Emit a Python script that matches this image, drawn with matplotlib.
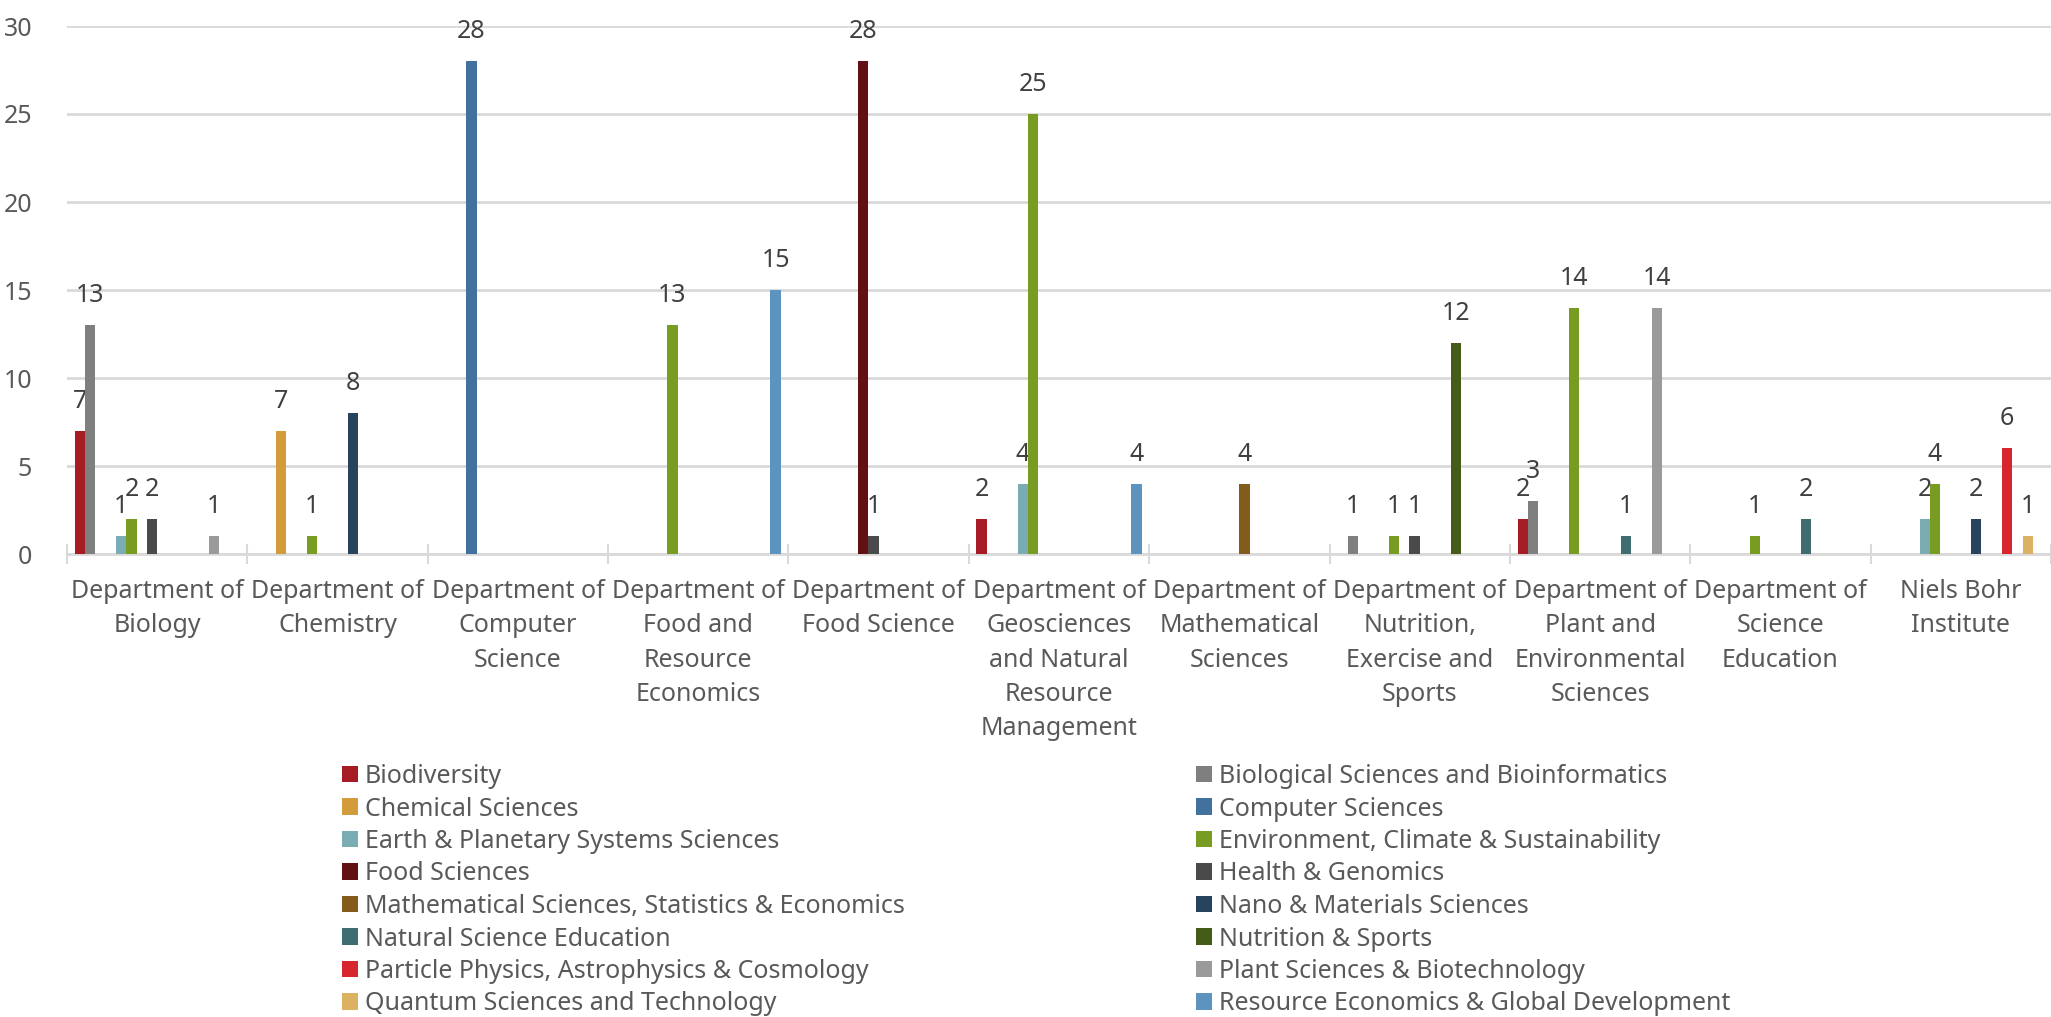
import numpy as np
import matplotlib
matplotlib.use('Agg')
import matplotlib.pyplot as plt
from matplotlib.patches import Patch

plt.rcParams['font.family'] = ['Noto Sans', 'DejaVu Sans']

departments = ['Department of\nBiology',
               'Department of\nChemistry',
               'Department of\nComputer\nScience',
               'Department of\nFood and\nResource\nEconomics',
               'Department of\nFood Science',
               'Department of\nGeosciences\nand Natural\nResource\nManagement',
               'Department of\nMathematical\nSciences',
               'Department of\nNutrition,\nExercise and\nSports',
               'Department of\nPlant and\nEnvironmental\nSciences',
               'Department of\nScience\nEducation',
               'Niels Bohr\nInstitute']

series_names = ['Biodiversity',
                'Biological Sciences and Bioinformatics',
                'Chemical Sciences',
                'Computer Sciences',
                'Earth & Planetary Systems Sciences',
                'Environment, Climate & Sustainability',
                'Food Sciences',
                'Health & Genomics',
                'Mathematical Sciences, Statistics & Economics',
                'Nano & Materials Sciences',
                'Natural Science Education',
                'Nutrition & Sports',
                'Particle Physics, Astrophysics & Cosmology',
                'Plant Sciences & Biotechnology',
                'Quantum Sciences and Technology',
                'Resource Economics & Global Development']

# one list per series, one value per department
biodiversity = [7, 0, 0, 0, 0, 2, 0, 0, 2, 0, 0]
bio_sci      = [13, 0, 0, 0, 0, 0, 0, 1, 3, 0, 0]
chemical     = [0, 7, 0, 0, 0, 0, 0, 0, 0, 0, 0]
computer     = [0, 0, 28, 0, 0, 0, 0, 0, 0, 0, 0]
earth        = [1, 0, 0, 0, 0, 4, 0, 0, 0, 0, 2]
environment  = [2, 1, 0, 13, 0, 25, 0, 1, 14, 1, 4]
food         = [0, 0, 0, 0, 28, 0, 0, 0, 0, 0, 0]
health       = [2, 0, 0, 0, 1, 0, 0, 1, 0, 0, 0]
math_sci     = [0, 0, 0, 0, 0, 0, 4, 0, 0, 0, 0]
nano         = [0, 8, 0, 0, 0, 0, 0, 0, 0, 0, 2]
nat_sci_edu  = [0, 0, 0, 0, 0, 0, 0, 0, 1, 2, 0]
nutrition    = [0, 0, 0, 0, 0, 0, 0, 12, 0, 0, 0]
particle     = [0, 0, 0, 0, 0, 0, 0, 0, 0, 0, 6]
plant        = [1, 0, 0, 0, 0, 0, 0, 0, 14, 0, 0]
quantum      = [0, 0, 0, 0, 0, 0, 0, 0, 0, 0, 1]
resource     = [0, 0, 0, 15, 0, 4, 0, 0, 0, 0, 0]

series_values = [biodiversity, bio_sci, chemical, computer, earth, environment,
                 food, health, math_sci, nano, nat_sci_edu, nutrition,
                 particle, plant, quantum, resource]

colors = ['#A51C24', '#7F7F7F', '#D39C3A', '#41719C', '#7AADB3', '#789B22',
          '#621014', '#4A4A4A', '#835C1D', '#27435E', '#3F6D6F', '#455B18',
          '#D8262E', '#9A9A9A', '#DCB262', '#5D93BF']

text_col = '#595959'
grid_col = '#D9D9D9'
fs = 18

fig = plt.figure(figsize=(20.51, 10.17), dpi=100)
ax = fig.add_axes([67 / 2051, 1 - 554 / 1017, 1 - 67 / 2051, (554 - 26) / 1017])

x = np.arange(len(departments))
n = len(series_values)
bar_w = 0.915 / n
for i, (vals, col) in enumerate(zip(series_values, colors)):
    xs = x - 0.4575 + (i + 0.5) * bar_w
    ax.bar(xs, vals, bar_w, color=col, zorder=3)
    for xx, v in zip(xs, vals):
        if v > 0:
            ax.annotate(str(v), (xx, v), xytext=(0, 16.5), textcoords='offset points',
                        ha='center', va='baseline', fontsize=fs, color='#404040')

ax.set_xlim(-0.5, len(departments) - 0.5)
ax.set_ylim(0, 30)
ax.set_yticks(range(0, 31, 5))
ax.yaxis.grid(True, color=grid_col, linewidth=2, zorder=0)
ax.tick_params(axis='y', length=0, pad=25, labelsize=fs, labelcolor=text_col)

# category boundaries get the tick marks, centres get the labels
ax.set_xticks(np.arange(-0.5, len(departments) + 0.5, 1))
ax.set_xticklabels([])
ax.tick_params(axis='x', which='major', direction='inout', length=14, width=1.5, color=grid_col)
ax.set_xticks(x, minor=True)
ax.set_xticklabels(departments, minor=True, fontsize=fs, color=text_col, linespacing=1.49)
ax.tick_params(axis='x', which='minor', length=0, pad=18)

for s in ['top', 'right', 'left']:
    ax.spines[s].set_visible(False)
ax.spines['bottom'].set_color(grid_col)
ax.spines['bottom'].set_linewidth(2)

handles = [Patch(facecolor=c, label=nm) for c, nm in zip(colors, series_names)]
leg_kw = dict(loc='upper left', frameon=False, fontsize=fs, handlelength=0.64,
              handleheight=0.64, handletextpad=0.28, labelspacing=0.3,
              borderpad=0, borderaxespad=0, labelcolor=text_col)
leg1 = fig.legend(handles=handles[0::2], bbox_to_anchor=(342 / 2051, 1 - 764 / 1017), **leg_kw)
leg2 = fig.legend(handles=handles[1::2], bbox_to_anchor=(1196 / 2051, 1 - 764 / 1017), **leg_kw)

fig.savefig('out.png', dpi=100)
